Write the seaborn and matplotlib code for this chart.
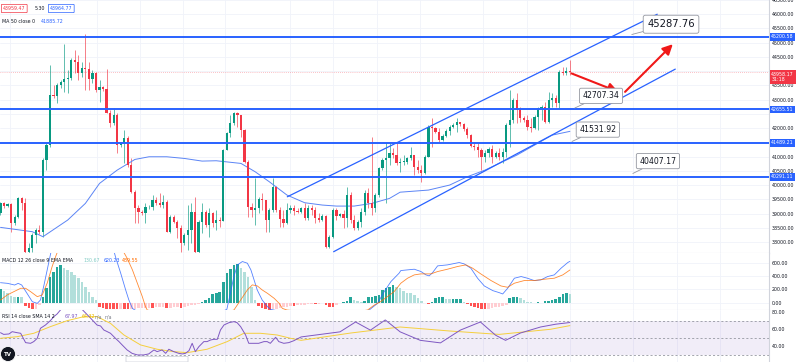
import numpy as np
import pandas as pd
import seaborn as sns
import matplotlib
matplotlib.use("Agg")
import matplotlib.pyplot as plt
from matplotlib.patches import Ellipse, FancyBboxPatch

sns.set_style("white")
plt.rcParams["font.family"] = ["DejaVu Sans"]

# ---- data (1 candle per index) ----
first_open = 39005
close = [39356, 39262, 39333, 38654, 38888, 39532, 39380, 37660, 37777, 38245,
         38420, 38362, 40877, 41404, 43159, 43123, 43510, 43627, 43708, 43744,
         44387, 44329, 43942, 44118, 44094, 43708, 43942, 43334, 43428, 43357,
         42538, 42187, 42456, 41404, 41462, 41661, 40702, 39766, 39180, 39063,
         39028, 39216, 39239, 39473, 39356, 39298, 39415, 38362, 38888, 38713,
         38479, 37952, 38245, 38420, 39063, 37660, 38713, 39063, 38596, 39005,
         38654, 38771, 38748,
         41228, 41813, 42164, 42515, 42456, 41930, 40818, 39239, 39122, 39181,
         39497, 39473, 38771, 39122, 39918, 39122, 38794, 38654, 39122, 39181,
         39099, 39063, 39181, 38830, 39181, 39122, 38830, 38771, 38912, 37835,
         38186, 39122, 38912, 38982, 38830, 39649, 38771, 38479, 38713, 39063,
         39707, 39356, 39181, 39649, 40584, 40877, 40935, 41111, 41052, 40760,
         40818, 40818, 40935, 41052, 40643,
         40526, 40409, 40994, 42047, 41989, 41872, 41579, 41720, 41907, 42047,
         42106, 42222, 42141, 41954, 41755, 41369, 41345, 41228, 40994, 41111,
         41251, 40970, 41135, 40994, 41169, 42106, 42281, 42983, 42632, 42339,
         42281, 42047, 41989, 42398, 42690, 42749, 42222, 42983, 43042, 42866,
         43978, 43919, 44001, 43958]
high = [39415, 39415, 39380, 39380, 38947, 39590, 39590, 39532, 37952, 38303,
        38479, 38596, 40935, 41462, 44212, 43510, 43568, 43685, 44972, 44036,
        44446, 44738, 44563, 44329, 45300, 44329, 44036, 43978, 43685, 43474,
        44094, 42632, 42690, 42515, 41521, 41930, 41720, 40935, 39824, 39298,
        39122, 39356, 39298, 39649, 39590, 39707, 39649, 39473, 38947, 38947,
        38771, 38596, 38303, 39298, 39356, 39590, 38771, 39356, 39122, 39180,
        39063, 39122, 38865,
        41251, 41871, 42457, 42574, 42574, 42340, 41954, 40877, 39356, 40234,
        39590, 39707, 39473, 39181, 40234, 39964, 39239, 39122, 39356, 39298,
        39298, 39181, 39239, 39356, 39298, 39298, 39239, 39005, 38982, 38947,
        38245, 39181, 39181, 39029, 39122, 39941, 39766, 38947, 38771, 39181,
        39824, 39883, 41696, 39707, 40643, 40935, 41521, 41462, 41286, 41462,
        40935, 41052, 40994, 41345, 41052,
        40877, 40702, 41052, 42106, 42339, 42047, 41989, 41790, 41954, 42106,
        42164, 42339, 42222, 42164, 42047, 41790, 41521, 41462, 41286, 41228,
        41345, 41404, 41205, 41286, 41286, 42164, 43334, 43042, 43217, 42749,
        42421, 42456, 42339, 42456, 42749, 42808, 42925, 43276, 43217, 43159,
        44036, 44153, 44153, 44387]
low = [38947, 39180, 39216, 38362, 38596, 38830, 39122, 37624, 37624, 37660,
       37952, 38280, 38186, 40526, 41345, 43042, 42866, 43393, 43276, 43217,
       43685, 43919, 43685, 43802, 43334, 43334, 43568, 43276, 42925, 43311,
       42515, 42047, 42106, 41111, 41345, 40760, 40643, 39707, 38654, 38654,
       38947, 38654, 39146, 39122, 39298, 39239, 39180, 38362, 38303, 38654,
       38128, 37660, 37894, 37718, 37952, 37624, 37624, 38303, 38537, 38186,
       38537, 38420, 38537,
       38771, 41228, 41696, 42106, 42047, 41696, 40760, 38888, 38888, 38596,
       39005, 39122, 38362, 38362, 39064, 39064, 38537, 38537, 38631, 39005,
       38947, 39005, 39005, 38771, 38771, 38947, 38654, 38713, 38748, 37777,
       37777, 38128, 38771, 38865, 38479, 38537, 38654, 38420, 38420, 38537,
       38947, 39181, 38947, 39064, 39567, 40526, 39356, 40702, 40935, 40702,
       40468, 40702, 40737, 40877, 40351,
       40409, 40117, 40386, 40970, 41345, 41813, 41521, 41556, 41673, 41755,
       41989, 41872, 42070, 41907, 41638, 41322, 41228, 40994, 40526, 40819,
       40994, 40760, 40936, 40877, 40760, 40970, 41345, 42164, 42164, 42222,
       42222, 41930, 41872, 41954, 41930, 42281, 42164, 42164, 42749, 42749,
       42690, 43861, 43861, 43861]

ma_idx = [0, 9, 12, 19, 24, 28, 33, 38, 42, 47, 52, 57, 61, 68, 72, 76, 81,
          86, 91, 95, 100, 105, 110, 113, 121, 127, 132, 137, 142, 146, 151, 156, 161]
ma_val = [38514, 38362, 38186, 38771, 39356, 40058, 40526, 40900, 40994, 40994,
          40935, 40842, 40854, 40760, 40468, 40117, 39649, 39380, 39298, 39262,
          39262, 39356, 39532, 39750, 39824, 40000, 40292, 40526, 40819, 41052,
          41404, 41755, 41886]

macd_hist = [200, 180, 140, 100, 90, 90, 80, -50, -85, -100,
             -90, -35, 90, 215, 390, 465, 540, 565, 515, 490,
             465, 415, 365, 315, 240, 165, 90, 40, -70, -80,
             -90, -95, -100, -100, -95, -100, -100, -95, -90, -85,
             -80, -78, -75, -75, -72, -70, -68, -80, -75, -70,
             -68, -80, -70, -55, -40, -35, -15, 15, 40, 65,
             130, 150, 160, 315, 440, 500, 565, 580, 515, 465,
             390, 240, 40, -50, -85, -100, -110, -100, -90, -85,
             -70, -60, -50, -50, -40, -35, -30, -25, -20, -20,
             -15, -10, -35, -60, -70, -35, -10, 15, 30, 80,
             40, 25, 15, 30, 80, 90, 100, 115, 190, 215,
             240, 265, 240, 215, 180, 150, 140, 115, 65, 30,
             -10, -20, 5, 65, 80, 80, 55, 50, 50, 50,
             50, 15, -20, -50, -70, -85, -100, -100, -90, -85,
             -70, -60, -50, -35, 65, 90, 90, 65, 40, 15,
             5, -10, 5, -10, 25, 25, 40, 50, 90, 130,
             150, 131]
macd_idx = [0, 2, 4, 5, 6, 7.5, 9, 10.4, 11.3, 12.3, 13.2, 14.2, 16, 22, 28, 32,
            32.5, 34, 35.4, 36.3, 37.3, 38, 45, 55, 62, 64, 65, 66, 67, 68.4,
            69.8, 70.8, 71.7, 72.6, 74, 75.5, 76.4, 85, 95, 104, 106.6, 108.5,
            110.4, 112.7, 113.2, 117, 118.9, 120.3, 121.2, 122.2, 123.6, 126.4,
            129.7, 131.1, 133, 134.9, 136.8, 139.2, 141, 142, 143.4, 145.3,
            147.2, 149, 150.9, 152.8, 154.7, 156.6, 158.5, 160.4, 161]
macd_val = [300, 290, 265, 290, 265, 140, 15, -10, 40, 265, 490, 742, 900, 1050,
            950, 790, 690, 440, 190, 40, -85, -110, -250, -250, -150, -100, 140,
            392, 567, 617, 592, 492, 342, 190, 40, -60, -100, -200, -220, -120,
            -10, 166, 317, 442, 482, 502, 467, 417, 402, 452, 552, 567, 602, 582,
            517, 367, 251, 181, 151, 131, 216, 367, 392, 367, 332, 342, 392, 417,
            517, 602, 620]
signal_idx = [0, 1.9, 3.8, 5.7, 7.1, 8.5, 10.4, 11.8, 13.2, 14.6, 15.6, 16.3,
              22, 30, 34.5, 35.8, 37.3, 38.7, 40.1, 41, 41.5, 50, 60, 66, 67.9,
              69.8, 71.2, 72.6, 74, 75.5, 77.4, 78.8, 79.7, 81, 95, 103.8, 105.7,
              107.5, 109.4, 111.3, 113.2, 115.1, 117, 118.9, 121.7, 123.6, 126.4,
              129.2, 131.6, 133.5, 135.8, 138.7, 141.5, 143.4, 145.3, 148.1,
              150.9, 153.8, 156.6, 159, 161]
signal_val = [40, 116, 166, 216, 216, 166, 91, 116, 292, 542, 692, 790, 900, 900,
              790, 667, 492, 292, 91, -60, -110, -200, -200, -110, 40, 191, 267,
              252, 191, 140, 65, -10, -85, -110, -180, -110, -35, 16, 91, 166,
              292, 367, 417, 432, 432, 467, 502, 542, 567, 517, 432, 332, 251,
              231, 292, 332, 332, 352, 367, 417, 490]

rsi_idx = [0, 0.9, 2.4, 3.3, 4.7, 5.7, 7.1, 8.5, 9.4, 10.4, 11.3, 12.7, 14.1,
           15.1, 16, 18, 22, 25.5, 27.3, 28.3, 29.2, 30.2, 31.1, 32.5, 33.5,
           34.4, 35.8, 37.2, 38.7, 40.5, 41.9, 43.4, 44.3, 45.7, 46.7, 47.6, 49,
           50.4, 51.4, 52.3, 53.3, 54.2, 55.1, 56.1, 57.5, 58.4, 59.4, 60.3,
           61.3, 62.2, 63.2, 64.6, 66, 66.9, 67.9, 69.3, 70.2, 71.6, 73, 74.5,
           75.4, 76.3, 77.8, 78.7, 80.1, 81.5, 82.9, 85, 96, 100.4, 104.6,
           108.8, 113, 118.7, 124.4, 130, 135.7, 140, 142.8, 147, 152.7, 157, 161]
rsi_val = [56, 54, 54.5, 57.2, 56, 55.3, 44.3, 43.5, 45.5, 49.4, 61.2, 65, 70.2,
           74.9, 78, 88, 88, 73, 65, 63.9, 59.2, 57.2, 55.3, 49.4, 45.5, 41.6,
           35.7, 31.7, 29.8, 29.8, 31, 35.7, 33.7, 35.7, 31.7, 36.5, 33.7, 31.7,
           31, 31.7, 34.9, 43.5, 33.7, 39.6, 45.5, 45.5, 47.4, 48.2, 48.2, 59.2,
           65.1, 67.8, 69, 67.8, 63.1, 53.3, 43.5, 43.5, 43.5, 45.5, 45.5, 43.5,
           50.6, 45.5, 43.5, 44.3, 46.5, 51, 57, 68.6, 59, 71, 57, 47, 44, 59,
           68.6, 53, 47, 55.6, 62.7, 66, 67.97]
rsi_sma_idx = [0, 4.7, 9.4, 14.1, 18.9, 23.6, 27.3, 31.1, 34.9, 39.6, 44.3, 49,
               52.8, 58.4, 64.1, 68.8, 73.5, 78.2, 82, 85, 99, 113, 127, 141,
               155.5, 161]
rsi_sma_val = [49.4, 51.3, 55.3, 63.1, 70.2, 74.9, 74.9, 67, 53.3, 41.6, 36.5,
               33.7, 32.5, 36.5, 45.5, 55.3, 55.3, 53.3, 49.4, 47, 55.6, 62.7,
               58, 54, 60, 64.32]

levels = [45200.58, 42655.51, 41489.21, 40291.11]
last_price = 43958.17
channel_upper = ([81.1, 185.7], [39589, 46000])
channel_lower = ([94.2, 190.8], [37659, 44072])
arrows = [((161.5, 43920), (174.7, 43274)), ((176.6, 43274), (190.1, 44948))]
callout_text = ["45287.76", "42707.34", "41531.92", "40407.17"]
callout_anchor = [(178.5, 45287.76), (162.4, 42707.34), (161.6, 41531.92), (178.8, 40407.17)]
callout_box = [(189.6, 45649), (169.8, 43134), (168.9, 41948), (185.9, 40842)]
grid_idx = [2.7, 27.3, 39.4, 51.6, 63.5, 81.8, 94, 106.4, 118.6, 136.4, 148.8,
            161, 178.8, 191.3, 203.4]

GREEN, RED, BLUE = "#089981", "#f23645", "#2962ff"
TXT, GRID, SEP = "#131722", "#f0f3fa", "#d1d4dc"
FS = 3.4
W, H = 800, 362

df = pd.DataFrame({"close": close, "high": high, "low": low})
df["open"] = df["close"].shift(1).fillna(first_open)
df["i"] = np.arange(len(df))
df["high"] = df[["high", "open", "close"]].max(axis=1)
df["low"] = df[["low", "open", "close"]].min(axis=1)
up = df["close"] >= df["open"]
ccol = np.where(up, GREEN, RED)

fig = plt.figure(figsize=(W / 100, H / 100), dpi=100)
fig.patch.set_facecolor("white")
pw = 769 / W
ax = fig.add_axes([0, 1 - 253 / H, pw, 253 / H])
axm = fig.add_axes([0, 1 - 309.5 / H, pw, 56.5 / H])
axr = fig.add_axes([0, 0, pw, 52.5 / H])
xlim = (-0.14, 217.3)

for a in (ax, axm, axr):
    a.set_xlim(*xlim)
    a.yaxis.tick_right()
    a.tick_params(axis="y", length=0, pad=2.2, labelsize=FS, labelcolor=TXT)
    a.set_xticks([])
    for s in ("top", "left"):
        a.spines[s].set_visible(False)
    a.spines["right"].set_color(SEP)
    a.spines["right"].set_linewidth(0.8)
    a.spines["bottom"].set_color(SEP)
    a.spines["bottom"].set_linewidth(0.8)
    for g in grid_idx:
        a.axvline(g, color=GRID, lw=0.6, zorder=0)
axr.spines["bottom"].set_visible(False)

# ---- main price panel ----
ax.set_ylim(37614, 46491)
yt = np.arange(38000, 46501, 500)
for v in yt:
    ax.axhline(v, color=GRID, lw=0.6, zorder=0)
# price-axis labels hidden behind the coloured tags are left out, as on the chart
tag_pos = levels + [last_price - 160]
tag_half = [170] * len(levels) + [280]
shown = [v for v in yt if all(abs(v - t) > hh for t, hh in zip(tag_pos, tag_half))]
ax.set_yticks(shown)
ax.set_yticklabels([f"{v:.2f}" for v in shown])

ax.vlines(df["i"], df["low"], df["high"], colors=ccol, lw=0.6, alpha=0.75, zorder=2)
body = (df["close"] - df["open"]).abs().clip(lower=20)
ax.bar(df["i"], body, bottom=df[["open", "close"]].min(axis=1), width=0.62,
       color=ccol, lw=0, zorder=3)

sns.lineplot(x=ma_idx, y=ma_val, ax=ax, color="#5b84f5", lw=0.7, zorder=2.5)

ax.axhline(last_price, color=RED, lw=0.5, ls=(0, (1, 2)), alpha=0.6, zorder=1)
for lv in levels:
    ax.axhline(lv, color=BLUE, lw=1.4, zorder=4)
ax.plot(*channel_upper, color=BLUE, lw=0.9, zorder=4)
ax.plot(*channel_lower, color=BLUE, lw=0.9, zorder=4)

for st, en in arrows:
    ax.annotate("", xy=en, xytext=st, zorder=6,
                arrowprops=dict(arrowstyle="-|>,head_length=0.6,head_width=0.3",
                                color="#f01818", lw=1.5, shrinkA=0, shrinkB=0))

for k, (t, anc, bx) in enumerate(zip(callout_text, callout_anchor, callout_box)):
    ax.annotate(t, xy=anc, xytext=bx, ha="center", va="center",
                fontsize=7.2 if k == 0 else 5.6, color=TXT, zorder=7,
                bbox=dict(boxstyle="round,pad=0.4,rounding_size=0.2", fc="white",
                          ec="#9598a1", lw=0.6),
                arrowprops=dict(arrowstyle="-", color="#9598a1", lw=0.6,
                                shrinkA=0, shrinkB=0))

tr = ax.get_yaxis_transform()
for lv in levels:
    ax.text(1.003, lv, f"{lv:.2f}", transform=tr, ha="left", va="center",
            fontsize=FS, color="white", clip_on=False, zorder=8,
            bbox=dict(boxstyle="square,pad=0.3", fc=BLUE, ec="none"))
ax.text(1.003, last_price - 160, f"{last_price:.2f}\n31:18", transform=tr,
        ha="left", va="center", fontsize=FS, color="white", clip_on=False,
        zorder=8, linespacing=1.2,
        bbox=dict(boxstyle="square,pad=0.35", fc=RED, ec="none"))

# ---- MACD panel ----
axm.set_ylim(-102, 745)
axm.set_yticks([0, 200, 400, 600])
axm.set_yticklabels(["0.00", "200.00", "400.00", "600.00"])
for v in [0, 200, 400, 600]:
    axm.axhline(v, color=GRID, lw=0.6, zorder=0)
hist = np.array(macd_hist, dtype=float)
prev = np.r_[hist[0], hist[:-1]]
hcol = np.where(hist >= 0, np.where(hist >= prev, "#26a69a", "#b2dfdb"),
                np.where(hist <= prev, "#ff5252", "#ffcdd2"))
axm.bar(np.arange(len(hist)), hist, width=0.72, color=hcol, lw=0, zorder=2)
sns.lineplot(x=macd_idx, y=macd_val, ax=axm, color="#2962ff", lw=0.6, alpha=0.8, zorder=3)
sns.lineplot(x=signal_idx, y=signal_val, ax=axm, color="#ff6d00", lw=0.6, alpha=0.8, zorder=3)

# ---- RSI panel ----
axr.set_ylim(21.5, 83.3)
axr.set_yticks([40, 60, 80])
axr.set_yticklabels(["40.00", "60.00", "80.00"])
axr.axhspan(30, 70, color="#7e57c2", alpha=0.1, lw=0, zorder=0)
for v in (70, 50, 30):
    axr.axhline(v, color="#9598a1", lw=0.6, ls=(0, (2.5, 2.5)), zorder=1)
sns.lineplot(x=rsi_sma_idx, y=rsi_sma_val, ax=axr, color="#f5cf3c", lw=0.7, zorder=2)
sns.lineplot(x=rsi_idx, y=rsi_val, ax=axr, color="#7e57c2", lw=0.7, zorder=3)

for a in (ax, axm, axr):
    a.set_xlabel("")
    a.set_ylabel("")


# ---- legends / headers ----
def ftext(xp, yp, s, **kw):
    kw.setdefault("fontsize", FS)
    kw.setdefault("color", TXT)
    fig.text(xp / W, 1 - yp / H, s, ha="left", va="center", **kw)


ftext(3, 8.5, "43959.47", color=RED,
      bbox=dict(boxstyle="round,pad=0.35,rounding_size=0.15", fc="white", ec=RED, lw=0.5))
ftext(35, 8.5, "5.30")
ftext(50, 8.5, "43964.77", color=BLUE,
      bbox=dict(boxstyle="round,pad=0.35,rounding_size=0.15", fc="white", ec=BLUE, lw=0.5))
ftext(2, 21.5, "MA 50 close 0")
ftext(41, 21.5, "41885.72", color=BLUE)

ftext(2, 261, "MACD 12 26 close 9 EMA EMA")
ftext(83, 261, "130.67", color="#80cbc4")
ftext(104, 261, "620.23", color=BLUE)
ftext(122, 261, "489.55", color="#ff6d00")

ftext(2, 317, "RSI 14 close SMA 14 2")
ftext(65, 317, "67.97", color="#7e57c2")
ftext(82, 317, "64.32", color="#e9b800")
ftext(95, 317, "n/a", color="#787b86")
ftext(105, 317, "n/a", color="#787b86")

fig.add_artist(Ellipse((8 / W, 1 - 354 / H), 15 / W, 15 / H, transform=fig.transFigure,
                       fc="#131722", ec="white", lw=0.6, zorder=10))
fig.text(8 / W, 1 - 354 / H, "TV", ha="center", va="center", fontsize=4,
         color="white", weight="bold", zorder=11)
fig.add_artist(FancyBboxPatch((126 / W, 0), 62 / W, 5.5 / H, transform=fig.transFigure,
                              boxstyle="round,pad=0", fc="white", ec="#d1d4dc",
                              lw=0.6, zorder=10))

fig.savefig("out.png", dpi=100)
